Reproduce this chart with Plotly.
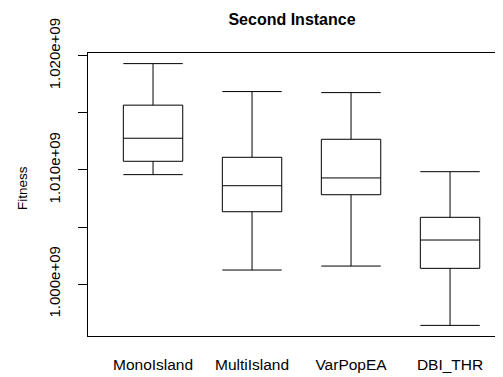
import plotly.graph_objects as go

categories = ["MonoIsland", "MultiIsland", "VarPopEA", "DBI_THR"]
lower_whisker = [1.00959e9, 1.00123e9, 1.00158e9, 0.99638e9]
q1_values = [1.01076e9, 1.00634e9, 1.00783e9, 1.00138e9]
medians = [1.01278e9, 1.00862e9, 1.00930e9, 1.00386e9]
q3_values = [1.01568e9, 1.01111e9, 1.01269e9, 1.00585e9]
upper_whisker = [1.01932e9, 1.01687e9, 1.01678e9, 1.00985e9]

ytick_vals = [1.000e9, 1.005e9, 1.010e9, 1.015e9, 1.020e9]
ytick_text = ["1.000e+09", "", "1.010e+09", "", "1.020e+09"]

positions = list(range(1, len(categories) + 1))

fig = go.Figure()
fig.add_trace(go.Box(
    x=positions,
    q1=q1_values,
    median=medians,
    q3=q3_values,
    lowerfence=lower_whisker,
    upperfence=upper_whisker,
    width=0.6,
    whiskerwidth=1,
    line=dict(color="black", width=1),
    fillcolor="white",
    boxpoints=False,
    hoverinfo="skip",
    showlegend=False,
))

font_family = "Liberation Sans, Arial, Helvetica, sans-serif"

# The page body has an 8px default margin, so the figure is sized to fit the window.
W, H = 495, 369
fig.update_layout(
    width=W,
    height=H,
    margin=dict(l=80, r=0, t=45, b=41),
    paper_bgcolor="white",
    plot_bgcolor="white",
    font=dict(family=font_family, size=14, color="black"),
    title=dict(
        text="<b>Second Instance</b>",
        x=284 / W,
        xanchor="center",
        y=1 - 11 / H,
        yanchor="middle",
        font=dict(family=font_family, size=16, color="black"),
    ),
    xaxis=dict(
        range=[0.343, 4.535],
        tickvals=positions,
        ticktext=categories,
        ticks="",
        showgrid=False,
        zeroline=False,
        showline=True,
        mirror=True,
        linecolor="black",
        linewidth=1,
        ticklabelstandoff=14,
        tickfont=dict(size=15.5),
        automargin=False,
    ),
    yaxis=dict(
        range=[0.99545e9, 1.02025e9],
        tickvals=ytick_vals,
        ticktext=ytick_text,
        tickangle=-90,
        ticks="outside",
        ticklen=9,
        tickcolor="black",
        tickwidth=1,
        showgrid=False,
        zeroline=False,
        showline=True,
        linecolor="black",
        linewidth=1,
        ticklabelstandoff=12,
        tickfont=dict(size=15),
        automargin=False,
    ),
    annotations=[dict(
        text="Fitness",
        xref="paper", yref="paper",
        x=(23 - 88) / 415, y=(336 - 188) / 283,
        xanchor="center", yanchor="middle",
        textangle=-90,
        showarrow=False,
        font=dict(family=font_family, size=13.5, color="black"),
    )],
)

fig.write_html("out.html")
